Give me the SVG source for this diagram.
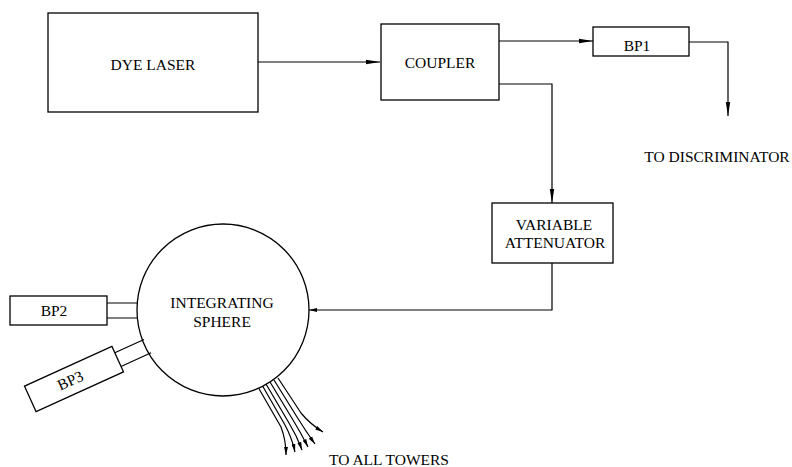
<svg xmlns="http://www.w3.org/2000/svg" width="792" height="467" viewBox="0 0 792 467">
<defs>
<style>
.box{fill:#fff;stroke:#000;stroke-width:1.3}
.ln{fill:none;stroke:#000;stroke-width:1.2}
text{font-family:'Liberation Serif','Times New Roman',serif;font-size:15.5px;fill:#000;text-anchor:middle}
</style>
<marker id="ah" viewBox="0 0 14 6" refX="14" refY="3" markerWidth="14" markerHeight="6" markerUnits="userSpaceOnUse" orient="auto">
<path d="M0,0.8 L14,3 L0,5.2 Z" fill="#000"/>
</marker>
<marker id="ahs" viewBox="0 0 8 5" refX="8" refY="2.5" markerWidth="8" markerHeight="5" markerUnits="userSpaceOnUse" orient="auto">
<path d="M0,0.5 L8,2.5 L0,4.5 Z" fill="#000"/>
</marker>
</defs>
<rect width="792" height="467" fill="#fff"/>
<g id="connectors">
<path class="ln" d="M258,62 L380,62" marker-end="url(#ah)"/>
<path class="ln" d="M499,41 L593,41" marker-end="url(#ah)"/>
<path class="ln" d="M689,42 L728,42 L728,116" marker-end="url(#ah)"/>
<path class="ln" d="M499,84 L552,84 L552,203" marker-end="url(#ah)"/>
<path class="ln" d="M552,263 L552,310 L309,310" marker-end="url(#ahs)"/>
<g id="fibers">
<path class="ln" d="M258,387 L281,427 Q286,440 286,455" marker-end="url(#ahs)"/>
<path class="ln" d="M262,385 L285,425 Q292,438 295,452" marker-end="url(#ahs)"/>
<path class="ln" d="M266,384 L289,423 Q297,436 302,450" marker-end="url(#ahs)"/>
<path class="ln" d="M270,382 L293,420 Q301,433 308,447" marker-end="url(#ahs)"/>
<path class="ln" d="M274,380 L297,417 Q305,430 315,444" marker-end="url(#ahs)"/>
<path class="ln" d="M278,378 L301,413 Q310,424 323,432" marker-end="url(#ahs)"/>
</g>
</g>
<g id="dye-laser">
<rect class="box" x="48" y="13" width="210" height="99"/>
<text x="153" y="70">DYE LASER</text>
</g>
<g id="coupler">
<rect class="box" x="381" y="24" width="118" height="76"/>
<text x="440" y="68">COUPLER</text>
</g>
<g id="bp1">
<rect class="box" x="593" y="27" width="96" height="29"/>
<text x="637" y="51">BP1</text>
</g>
<text x="717" y="162">TO DISCRIMINATOR</text>
<g id="variable-attenuator">
<rect class="box" x="492" y="203" width="121" height="60"/>
<text x="554" y="230">VARIABLE</text>
<text x="555" y="248">ATTENUATOR</text>
</g>
<g id="integrating-sphere">
<circle class="box" cx="223" cy="310" r="86"/>
<text x="222" y="308">INTEGRATING</text>
<text x="222" y="327">SPHERE</text>
</g>
<g id="bp2">
<path class="ln" d="M107,303 L138,303 M107,318 L138,318"/>
<rect class="box" x="10" y="296" width="97" height="29"/>
<text x="54" y="316">BP2</text>
</g>
<g id="bp3">
<g transform="translate(74,379) rotate(-24.4)">
<path class="ln" d="M48,-7 L80,-7 M48,8 L81,8"/>
<rect class="box" x="-48" y="-14" width="96" height="28"/>
<text x="-4" y="5">BP3</text>
</g>
</g>
<text x="389" y="465">TO ALL TOWERS</text>
</svg>
